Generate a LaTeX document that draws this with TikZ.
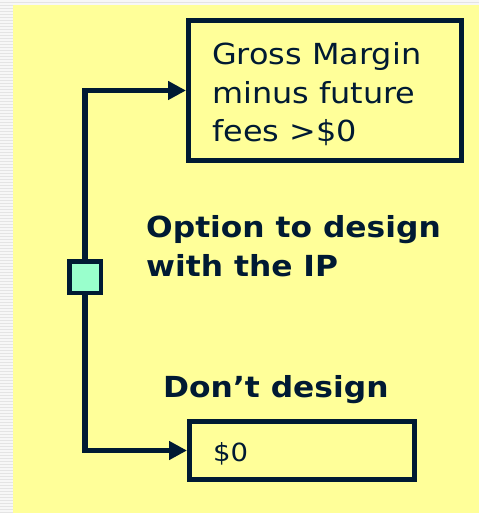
\documentclass[tikz,border=0pt]{standalone}
\usepackage{fontspec}
\setmainfont{DejaVu Sans}
\newfontfamily\boxfont[FakeStretch=1.1]{DejaVu Sans}
\newfontfamily\labelfont[FakeStretch=1.08]{DejaVu Sans}
\usetikzlibrary{arrows.meta,positioning}
\definecolor{navy}{HTML}{001A33}
\definecolor{pad}{HTML}{FFFF99}
\definecolor{mint}{HTML}{99FFCC}
\definecolor{stripe}{HTML}{E4E4E4}
\newcommand\boxtext{\boxfont\fontsize{29}{38.5}\selectfont}
\newcommand\zerotext{\boxfont\fontsize{25}{30}\selectfont}
\newcommand\optext{\labelfont\bfseries\fontsize{29}{39}\selectfont}
\begin{document}
\begin{tikzpicture}[x=1pt,y=-1pt,line join=miter]
		\tikzset{
			box/.style={draw=navy,line width=5pt,fill=pad,inner sep=0pt},
			wire/.style={draw=navy,line width=5.5pt,-{Triangle[length=18pt,width=18pt]}},
			txt/.style={text=navy,align=left,inner sep=0pt,anchor=base west}
		}
		\useasboundingbox (0,0) rectangle (479,513);
		\fill[stripe] (0,0) rectangle (479,513);
		\foreach \y in {1,4,...,511}
			\draw[white!70!stripe,line width=1.2pt] (0,\y) -- (479,\y);
		\fill[pad] (13,5) rectangle (479,513);
		\node[box,minimum width=273pt,minimum height=140pt] (gross) at (325,90.5) {};
		\node[box,minimum width=225pt,minimum height=58pt] (none) at (302,450.5) {};
		\node[box,fill=mint,line width=4.5pt,minimum size=31.5pt] (opt) at (85,277) {};
		\node[txt,font=\boxtext] (grosstext) at (212,142) {Gross Margin\\minus future\\fees >\$0};
		\node[txt,font=\zerotext] (zero) at (213,461) {\$0};
		\node[txt,font=\optext] (optlabel) at (146,276) {Option to design\\with the IP};
		\node[txt,font=\optext] (dontlabel) at (163,397) {Don’t design};
		\draw[wire] (opt.north) |- (gross.west);
		\draw[wire] (opt.south) |- (none.west);
\end{tikzpicture}
\end{document}
